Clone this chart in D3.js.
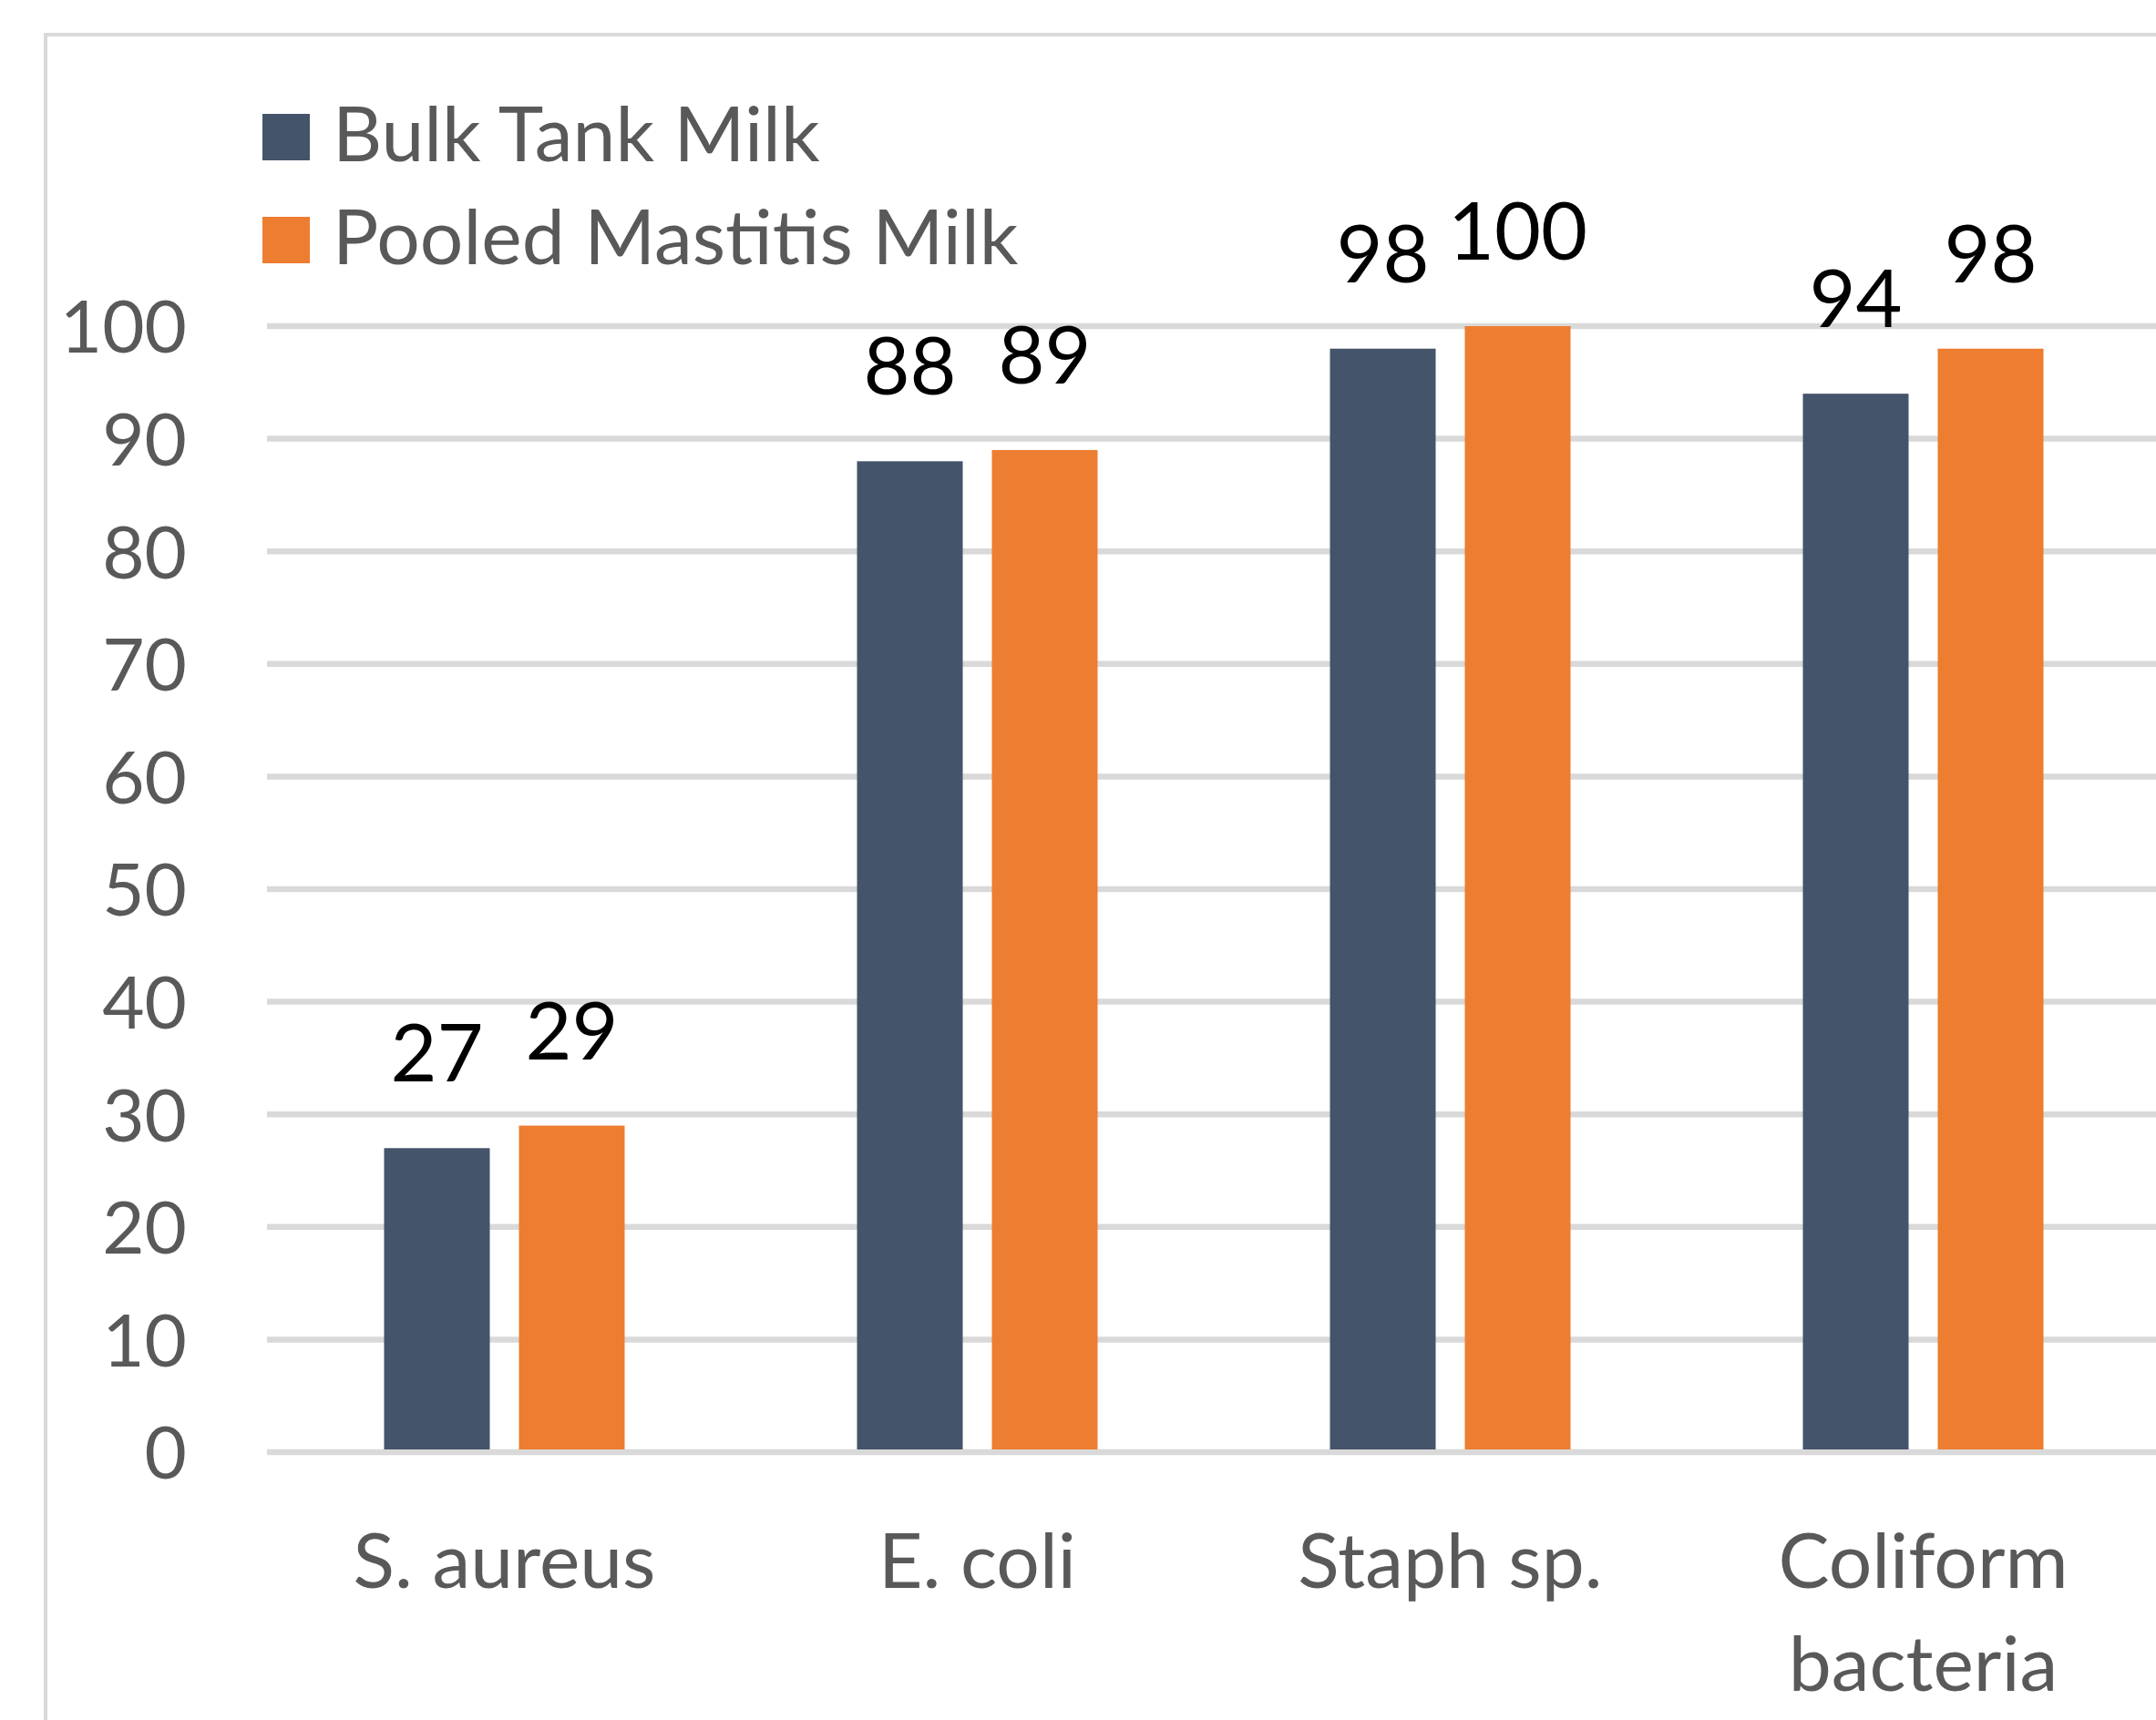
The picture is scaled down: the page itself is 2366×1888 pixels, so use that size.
<!DOCTYPE html>
<html>
<head>
<meta charset="utf-8">
<script src="https://cdn.jsdelivr.net/npm/d3@7"></script>
<style>
  html, body { margin: 0; padding: 0; background: #ffffff; }
  svg { display: block; }
  text { font-family: Lato, "Open Sans", "Noto Sans", sans-serif; }
</style>
</head>
<body>
<svg id="chart" width="2366" height="1888"></svg>
<script>
const categories = ["S. aureus", "E. coli", "Staph sp.", "Coliform bacteria"];
const seriesNames = ["Bulk Tank Milk", "Pooled Mastitis Milk"];
const bulkTankMilk = [27, 88, 98, 94];
const pooledMastitisMilk = [29, 89, 100, 98];
const yTicks = [0, 10, 20, 30, 40, 50, 60, 70, 80, 90, 100];
const colors = ["#44546A", "#ED7D31"];

const W = 2366, H = 1888;
const svg = d3.select("#chart");
svg.append("rect").attr("width", W).attr("height", H).attr("fill", "#fff");

// chart frame
svg.append("path")
  .attr("d", `M50,${H} L50,38 L${W},38`)
  .attr("fill", "none").attr("stroke", "#d9d9d9").attr("stroke-width", 4);

const y = d3.scaleLinear().domain([0, 100]).range([1594, 358]);
const x = d3.scaleBand().domain(categories).range([294, 2370]).paddingInner(0).paddingOuter(0);
const step = x.bandwidth();
const barW = 116, barGap = 32;
const groupW = barW * 2 + barGap;
const xs = d3.scaleBand().domain(seriesNames)
  .range([(step - groupW) / 2, (step + groupW) / 2])
  .paddingInner(barGap / (barW + barGap)).paddingOuter(0);

// gridlines
svg.append("g").selectAll("line").data(yTicks).join("line")
  .attr("x1", 293).attr("x2", W)
  .attr("y1", d => y(d)).attr("y2", d => y(d))
  .attr("stroke", "#d9d9d9").attr("stroke-width", 6.5);

// y axis labels
const yAxis = d3.axisLeft(y).tickValues(yTicks).tickSize(0).tickPadding(0).tickFormat(d3.format("d"));
const gy = svg.append("g").attr("transform", "translate(205,0)").call(yAxis);
gy.select(".domain").remove();
gy.selectAll("text")
  .attr("fill", "#595959").attr("font-size", 80)
  .attr("font-family", "Lato, 'Open Sans', sans-serif")
  .attr("dy", "0.36em");

const table = categories.map((c, i) => ({ cat: c, vals: [bulkTankMilk[i], pooledMastitisMilk[i]] }));

const groups = svg.append("g").selectAll("g").data(table).join("g")
  .attr("transform", d => `translate(${x(d.cat)},0)`);

groups.selectAll("rect").data(d => d.vals.map((v, j) => ({ v, s: seriesNames[j], j }))).join("rect")
  .attr("x", d => xs(d.s))
  .attr("width", xs.bandwidth())
  .attr("y", d => y(d.v))
  .attr("height", d => y(0) - y(d.v) - 3)
  .attr("fill", d => colors[d.j]);

groups.selectAll("text.val").data(d => d.vals.map((v, j) => ({ v, s: seriesNames[j], j }))).join("text")
  .attr("class", "val")
  .attr("x", d => xs(d.s) + xs.bandwidth() / 2)
  .attr("y", d => y(d.v) - 73)
  .attr("text-anchor", "middle")
  .attr("font-size", 88)
  .attr("fill", "#000")
  .text(d => d.v);

// category labels (wrapped)
const gx = svg.append("g");
categories.forEach(c => {
  const t = gx.append("text")
    .attr("x", x(c) + step / 2)
    .attr("y", 1743)
    .attr("text-anchor", "middle")
    .attr("font-size", 84)
    .attr("fill", "#595959");
  const words = c.split(" ");
  let line = [];
  let ts = t.append("tspan").attr("x", x(c) + step / 2).attr("dy", 0);
  words.forEach(w => {
    line.push(w);
    ts.text(line.join(" "));
    if (ts.node().getComputedTextLength() > step * 0.85 && line.length > 1) {
      line.pop();
      ts.text(line.join(" "));
      line = [w];
      ts = t.append("tspan").attr("x", x(c) + step / 2).attr("dy", 113).text(w);
    }
  });
});

// legend
const lg = svg.append("g");
seriesNames.forEach((s, j) => {
  const cy = 151 + j * 113;
  lg.append("rect").attr("x", 288).attr("y", cy - 26).attr("width", 52).attr("height", 51).attr("fill", colors[j]);
  lg.append("text").attr("x", 365).attr("y", cy + 26)
    .attr("font-size", 84).attr("fill", "#595959").text(s);
});
</script>
</body>
</html>
